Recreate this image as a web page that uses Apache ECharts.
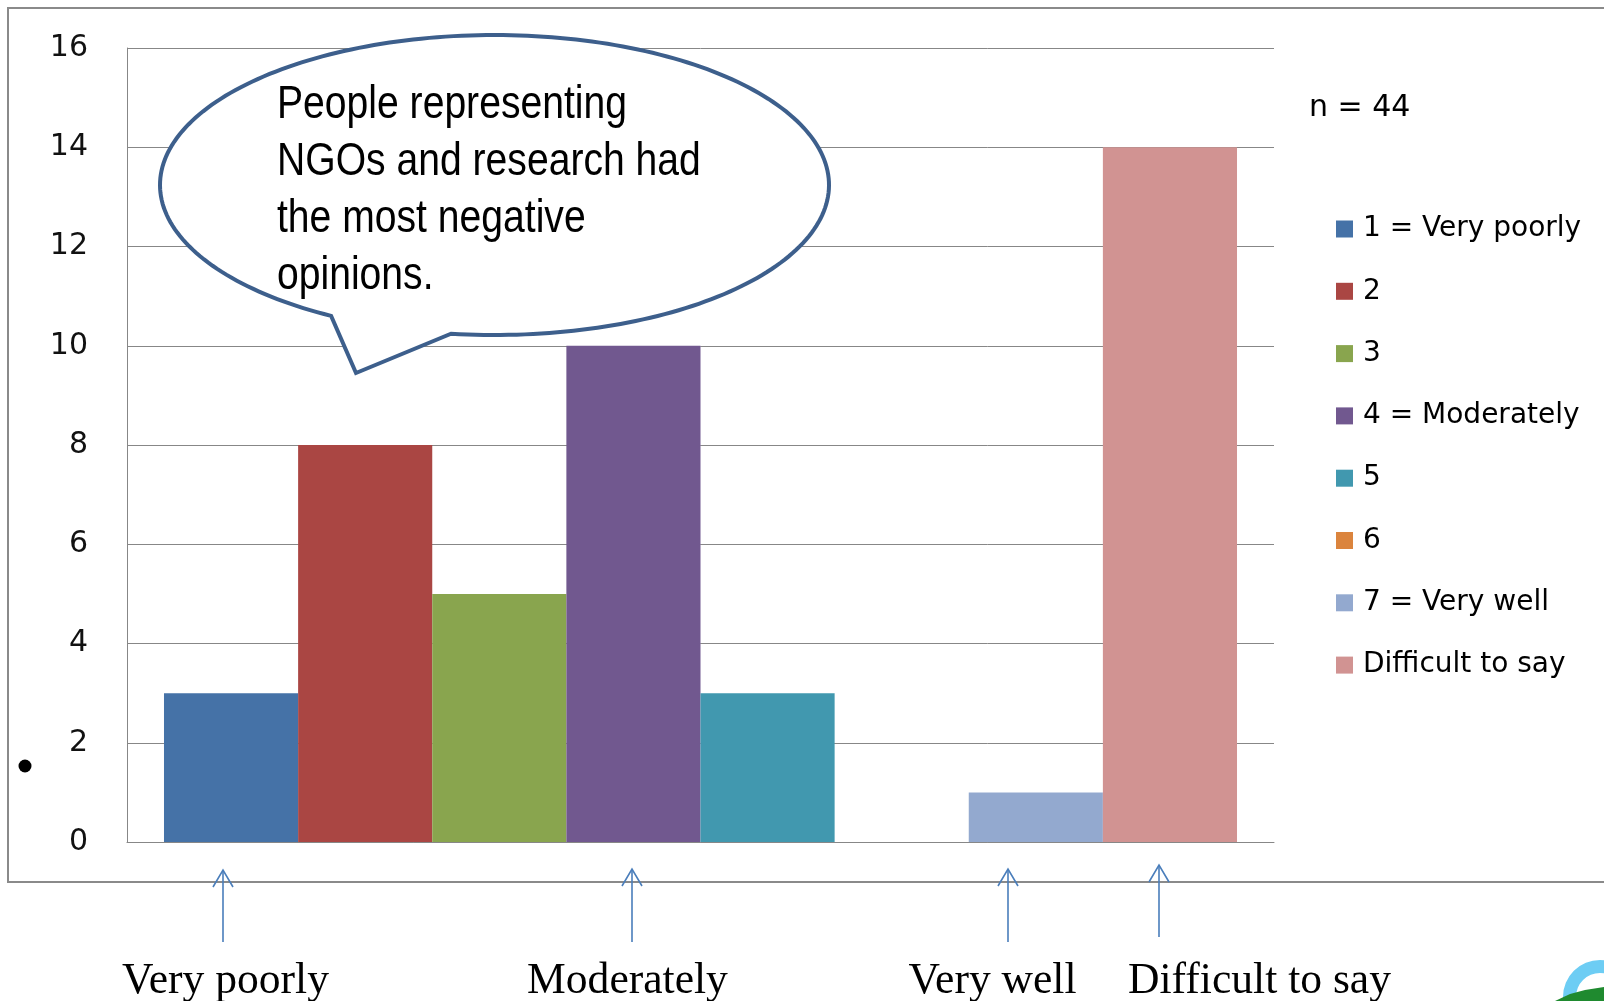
<!DOCTYPE html>
<html>
<head>
<meta charset="utf-8">
<script src="https://cdn.jsdelivr.net/npm/echarts@6/dist/echarts.min.js"></script>
<style>
  html, body { margin: 0; padding: 0; background: #ffffff; }
  #chart { width: 1604px; height: 1001px; }
</style>
</head>
<body>
<div id="chart"></div>
<script>
// ---- data ----
const categories = [''];
const seriesNames = ['1 = Very poorly', '2', '3', '4 = Moderately', '5', '6', '7 = Very well', 'Difficult to say'];
const counts = [3, 8, 5, 10, 3, 0, 1, 14];
const seriesColors = ['#4572a7', '#aa4643', '#89a54e', '#71588f', '#4198af', '#db843d', '#93a9cf', '#d19392'];
const yMin = 0, yMax = 16, yInterval = 2;
const sampleNote = 'n = 44';
const calloutLines = ['People representing', 'NGOs and research had', 'the most negative', 'opinions.'];
const scaleLabels = ['Very poorly', 'Moderately', 'Very well', 'Difficult to say'];

// ---- layout (styling only) ----
const scaleLabelX = [225.5, 627.5, 992.5, 1259.5];
const arrowSpecs = [[223, 870, 942], [632, 869, 942], [1008, 869, 942], [1159, 865, 937]];
const gray = '#878787';
const arrowColor = '#4a7ebb';
const calloutStroke = '#3d5f8c';

const chart = echarts.init(document.getElementById('chart'), null, { renderer: 'canvas' });

const series = seriesNames.map((name, i) => ({
  name: name,
  type: 'bar',
  data: [counts[i]],
  itemStyle: { color: seriesColors[i] },
  barGap: '0%',
  barCategoryGap: '6.45%',
  silent: true
}));

const graphics = [];
// outer frame
graphics.push({
  type: 'rect', z: 0, silent: true,
  shape: { x: 8, y: 8, width: 1700, height: 874 },
  style: { fill: 'none', stroke: '#8a8a8a', lineWidth: 2 }
});
// bullet
graphics.push({
  type: 'circle', silent: true,
  shape: { cx: 25, cy: 766, r: 6.5 },
  style: { fill: '#000' }
});
// n = 44
graphics.push({
  type: 'text', silent: true, x: 1309, y: 108,
  style: { text: sampleNote, font: '30px "DejaVu Sans"', fill: '#000', align: 'left', verticalAlign: 'middle' }
});
// callout bubble (ellipse outline + tail) built as one polygon outline
const cx = 494.5, cy = 185, rx = 334.5, ry = 150;
const b1 = [331, 316], tip = [356, 373], b2 = [451, 334];
const t1 = Math.atan2((b1[1] - cy) / ry, (b1[0] - cx) / rx);
let t2 = Math.atan2((b2[1] - cy) / ry, (b2[0] - cx) / rx);
if (t2 < t1) t2 += Math.PI * 2;
const bubblePts = [];
const N = 240;
for (let k = 0; k <= N; k++) {
  const t = t1 + (t2 - t1) * k / N;
  bubblePts.push([cx + rx * Math.cos(t), cy + ry * Math.sin(t)]);
}
bubblePts.push(tip);
graphics.push({
  type: 'polygon', z: 100, silent: true,
  shape: { points: bubblePts },
  style: { fill: '#ffffff', stroke: calloutStroke, lineWidth: 4, lineJoin: 'miter' }
});
calloutLines.forEach((t, i) => {
  graphics.push({
    type: 'text', z: 101, silent: true,
    x: 277, y: 105 + i * 57, scaleX: 0.85, scaleY: 1,
    style: { text: t, font: '46px "Liberation Sans", Arial, sans-serif', fill: '#000', align: 'left', verticalAlign: 'middle' }
  });
});
// arrows
arrowSpecs.forEach(a => {
  const x = a[0], top = a[1], bottom = a[2];
  graphics.push({
    type: 'polyline', silent: true,
    shape: { points: [[x, bottom], [x, top]] },
    style: { stroke: arrowColor, lineWidth: 1.6, fill: null }
  });
  graphics.push({
    type: 'polyline', silent: true,
    shape: { points: [[x - 10, top + 17], [x, top], [x + 10, top + 17]] },
    style: { stroke: arrowColor, lineWidth: 1.6, fill: null }
  });
});
// scale labels under the chart
scaleLabels.forEach((t, i) => {
  graphics.push({
    type: 'text', silent: true,
    x: scaleLabelX[i], y: 981, scaleX: 0.99,
    style: { text: t, font: '44px "Liberation Serif", "Times New Roman", serif', fill: '#000', align: 'center', verticalAlign: 'middle' }
  });
});
// partial logo bottom-right
graphics.push({
  type: 'ring', silent: true,
  shape: { cx: 1600, cy: 997, r: 37, r0: 24 },
  style: { fill: '#6dcdf4' }
});
graphics.push({
  type: 'polygon', silent: true,
  shape: { points: [[1555, 1001], [1570, 994], [1585, 990], [1604, 987], [1604, 1001]] },
  style: { fill: '#1f8a2f' }
});

const option = {
  animation: false,
  backgroundColor: '#ffffff',
  grid: { left: 127, right: 330, top: 48, bottom: 159, containLabel: false },
  legend: {
    orient: 'vertical',
    left: 1331,
    top: 209,
    icon: 'rect',
    itemWidth: 17,
    itemHeight: 17,
    itemGap: 32.3,
    selectedMode: false,
    data: seriesNames,
    textStyle: {
      fontFamily: '"DejaVu Sans", Verdana, sans-serif',
      fontSize: 28,
      lineHeight: 30,
      color: '#000',
      padding: [0, 0, 0, 5]
    }
  },
  xAxis: {
    type: 'category',
    data: categories,
    axisLine: { show: true, lineStyle: { color: gray, width: 1 } },
    axisTick: { show: false },
    axisLabel: { show: false },
    splitLine: { show: false }
  },
  yAxis: {
    type: 'value',
    min: yMin,
    max: yMax,
    interval: yInterval,
    axisLine: { show: true, lineStyle: { color: gray, width: 1 } },
    axisTick: { show: false },
    axisLabel: {
      margin: 39,
      padding: [4, 0, 0, 0],
      fontFamily: '"DejaVu Sans", Verdana, sans-serif',
      fontSize: 30,
      color: '#111'
    },
    splitLine: { show: true, lineStyle: { color: gray, width: 1 } }
  },
  series: series,
  graphic: { elements: graphics }
};

chart.setOption(option);
</script>
</body>
</html>
